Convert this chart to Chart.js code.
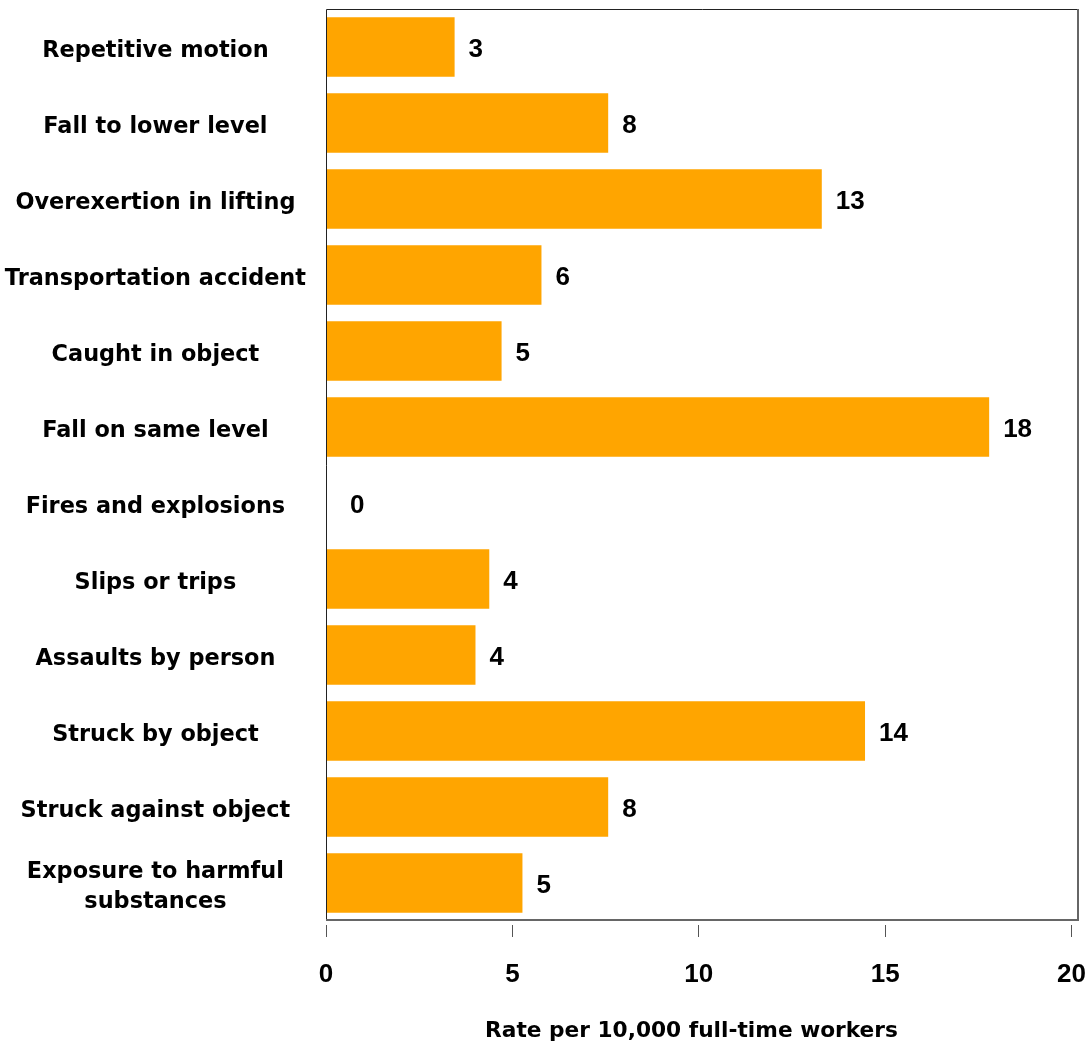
<!DOCTYPE html>
<html>
<head>
<meta charset="utf-8">
<script src="https://cdn.jsdelivr.net/npm/chart.js@4"></script>
<style>
  html, body { margin: 0; padding: 0; background: #fff; }
  #wrap { width: 1086px; height: 1046px; position: relative; }
</style>
</head>
<body>
<div id="wrap"><canvas id="c"></canvas></div>
<script>
const categories = [
  "Repetitive motion",
  "Fall to lower level",
  "Overexertion in lifting",
  "Transportation accident",
  "Caught in object",
  "Fall on same level",
  "Fires and explosions",
  "Slips or trips",
  "Assaults by person",
  "Struck by object",
  "Struck against object",
  ["Exposure to harmful", "substances"]
];
const rates = [3.45, 7.57, 13.3, 5.78, 4.71, 17.79, 0, 4.38, 4.01, 14.46, 7.57, 5.27];
const rateLabels = ["3", "8", "13", "6", "5", "18", "0", "4", "4", "14", "8", "5"];
const xTicks = [0, 5, 10, 15, 20];
const xTitle = "Rate per 10,000 full-time workers";

const FONT = "'DejaVu Sans', 'Liberation Sans', Arial, sans-serif";
const NUMFONT = "'Liberation Sans', Arial, sans-serif";

const framePlugin = {
  id: 'frame',
  afterDraw(chart) {
    const a = chart.chartArea, ctx = chart.ctx;
    ctx.save();
    ctx.lineWidth = 1;
    ctx.strokeStyle = '#222';
    ctx.beginPath();
    ctx.moveTo(a.left + 0.5, a.bottom);
    ctx.lineTo(a.left + 0.5, a.top + 0.5);
    ctx.lineTo(a.right, a.top + 0.5);
    ctx.stroke();
    ctx.strokeStyle = '#666';
    ctx.lineWidth = 2;
    ctx.beginPath();
    ctx.moveTo(a.right - 1, a.top);
    ctx.lineTo(a.right - 1, a.bottom - 1);
    ctx.lineTo(a.left, a.bottom - 1);
    ctx.stroke();
    // axis title
    ctx.font = "bold 21.7px " + FONT;
    ctx.fillStyle = '#000';
    ctx.textAlign = 'center';
    ctx.textBaseline = 'middle';
    ctx.fillText(xTitle, (a.left + a.right) / 2 - 11, chart.height - 15);
    ctx.restore();
  }
};

const valueLabelPlugin = {
  id: 'valueLabels',
  afterDatasetsDraw(chart) {
    const ctx = chart.ctx;
    const meta = chart.getDatasetMeta(0);
    ctx.save();
    ctx.font = "bold 26px " + NUMFONT;
    ctx.fillStyle = '#000';
    ctx.textAlign = 'left';
    ctx.textBaseline = 'middle';
    meta.data.forEach((el, i) => {
      const extra = rates[i] === 0 ? 24 : 14;
      ctx.fillText(rateLabels[i], el.x + extra, el.y + 3);
    });
    ctx.restore();
  }
};

new Chart(document.getElementById('c'), {
  type: 'bar',
  data: {
    labels: categories,
    datasets: [{
      data: rates,
      backgroundColor: '#FFA500',
      borderWidth: 0,
      barPercentage: 0.78,
      categoryPercentage: 1
    }]
  },
  options: {
    indexAxis: 'y',
    responsive: true,
    maintainAspectRatio: false,
    animation: false,
    layout: { padding: { left: 0, top: 9, right: 7, bottom: 0 } },
    plugins: { legend: { display: false }, tooltip: { enabled: false } },
    scales: {
      x: {
        min: 0,
        max: 20.2,
        afterBuildTicks(scale) { scale.ticks = xTicks.map(v => ({ value: v })); },
        afterFit(scale) {
          scale.height = 125;
          scale.paddingLeft = 0; scale.paddingRight = 0;
          scale.paddingTop = 0; scale.paddingBottom = 0;
        },
        border: { display: false },
        grid: {
          drawOnChartArea: false,
          drawTicks: true,
          tickLength: 16,
          tickColor: '#555',
          tickWidth: 1,
          tickBorderDash: [0, 4, 12, 100]
        },
        ticks: {
          padding: 22,
          color: '#000',
          font: { family: NUMFONT, size: 26, weight: 'bold' },
          maxRotation: 0,
          autoSkip: false
        },
        title: { display: false }
      },
      y: {
        afterFit(scale) {
          scale.width = 326;
          scale.paddingLeft = 0; scale.paddingRight = 0;
          scale.paddingTop = 0; scale.paddingBottom = 0;
        },
        border: { display: false },
        grid: { display: false, drawTicks: false },
        ticks: {
          crossAlign: 'center',
          padding: 20,
          labelOffset: 4,
          color: '#000',
          font: { family: FONT, size: 22.4, weight: 'bold', lineHeight: 1.34 },
          autoSkip: false
        }
      }
    }
  },
  plugins: [framePlugin, valueLabelPlugin]
});
</script>
</body>
</html>
